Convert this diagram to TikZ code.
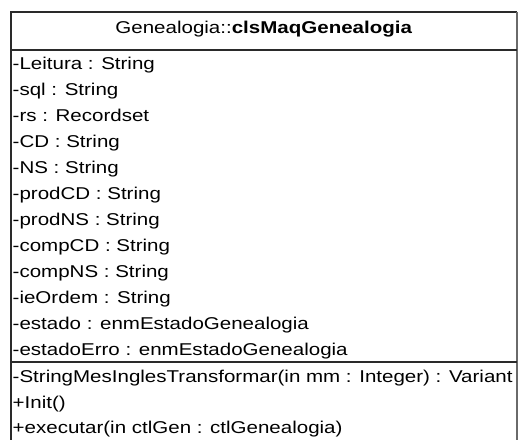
\documentclass[tikz,border=0pt]{standalone}
\usepackage{fontspec}
\setmainfont[FakeStretch=1.2]{Liberation Sans}
\definecolor{frame}{HTML}{2A2A2A}
\begin{document}
\begin{tikzpicture}[x=1pt,y=-1pt,
  member/.style={anchor=base west, inner sep=0pt, font=\fontsize{17.1}{19}\selectfont},
  title/.style={anchor=base, inner sep=0pt, font=\fontsize{17.1}{19}\selectfont},
  frameline/.style={draw=frame, line width=1.6pt},
  edgeline/.style={draw=frame!70, line width=1.1pt}]
\useasboundingbox (0,0) rectangle (518,439);
% class frame
\draw[frameline] (10.8,460) -- (10.8,12) -- (517,12);
\draw[edgeline] (517,12) -- (517,460);
\draw[frameline] (10.8,50) -- (517,50);
\draw[frameline] (10.8,362) -- (517,362);
% class name
\node[title] (name) at (263.8,33) {Genealogia::\textbf{clsMaqGenealogia}};
% attributes
\node[member] (a1)  at (12.5,69)  {-Leitura : String};
\node[member] (a2)  at (12.5,95)  {-sql : String};
\node[member] (a3)  at (12.5,121) {-rs : Recordset};
\node[member] (a4)  at (12.5,147) {-CD : String};
\node[member] (a5)  at (12.5,173) {-NS : String};
\node[member] (a6)  at (12.5,199) {-prodCD : String};
\node[member] (a7)  at (12.5,225) {-prodNS : String};
\node[member] (a8)  at (12.5,251) {-compCD : String};
\node[member] (a9)  at (12.5,277) {-compNS : String};
\node[member] (a10) at (12.5,303) {-ieOrdem : String};
\node[member] (a11) at (12.5,329) {-estado : enmEstadoGenealogia};
\node[member] (a12) at (12.5,355) {-estadoErro : enmEstadoGenealogia};
% operations
\node[member] (o1) at (12.5,382) {-StringMesInglesTransformar(in mm : Integer) : Variant};
\node[member] (o2) at (12.5,408) {+Init()};
\node[member] (o3) at (12.5,433) {+executar(in ctlGen : ctlGenealogia)};
\end{tikzpicture}
\end{document}
